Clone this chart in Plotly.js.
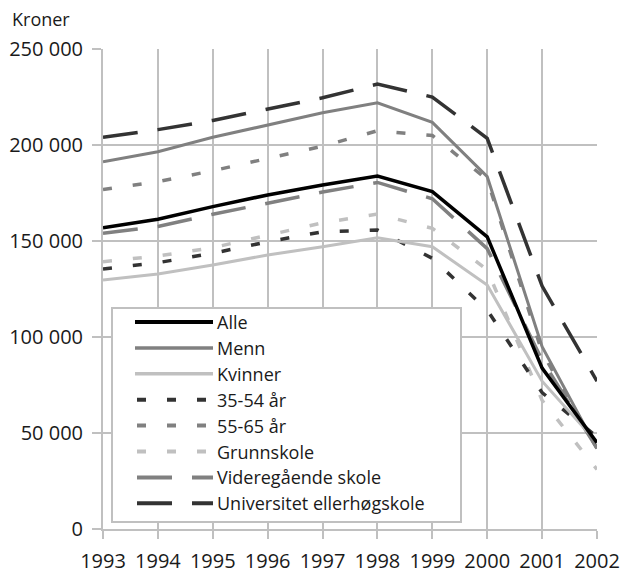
<!DOCTYPE html>
<html>
<head>
<meta charset="utf-8">
<script src="https://cdn.plot.ly/plotly-3.0.1.min.js"></script>
<style>
html,body{margin:0;padding:0;background:#fff;}
#chart{width:620px;height:576px;}
</style>
</head>
<body>
<div id="chart"></div>
<script>
// ---- data (kroner) ----
const years = [1993, 1994, 1995, 1996, 1997, 1998, 1999, 2000, 2001, 2002];
const alle          = [156900, 161300, 167900, 174000, 179200, 183800, 175700, 152200, 83800, 45000];
const menn          = [191300, 196500, 204000, 210400, 216800, 222000, 211800, 183500, 95000, 42000];
const kvinner       = [129700, 132800, 137500, 142700, 147000, 151700, 147000, 127100, 77000, 45000];
const aar3554       = [135400, 138700, 143600, 149600, 154800, 155700, 141000, 114000, 71000, 48000];
const aar5565       = [176800, 180900, 186600, 192900, 199400, 207400, 205000, 182000, 92000, 42000];
const grunnskole    = [139200, 142200, 146500, 153100, 159500, 164000, 156600, 135000, 67000, 31000];
const videregaende  = [154000, 157600, 163900, 169800, 175500, 180500, 172000, 146000, 88000, 42000];
const universitet   = [204000, 208000, 212800, 218900, 224600, 231700, 225000, 203500, 126500, 77000];

const seriesNames = ["Alle", "Menn", "Kvinner", "35-54 år", "55-65 år", "Grunnskole", "Videregående skole", "Universitet ellerhøgskole"];
const seriesData  = [alle, menn, kvinner, aar3554, aar5565, grunnskole, videregaende, universitet];
const yTicks = [0, 50000, 100000, 150000, 200000, 250000];
const yUnit = "Kroner";

// ---- styles ----
const colors = ["#000000", "#808080", "#c0c0c0", "#333333", "#808080", "#c0c0c0", "#808080", "#333333"];
const widths = [3.5, 3, 3, 3.5, 3.5, 3.5, 3.5, 3.5];
const shortDash = "9px,21px";
const longDash = "35px,20px";
const dashes = ["solid", "solid", "solid", shortDash, shortDash, shortDash, longDash, longDash];

// ---- layout geometry (pixels) ----
const W = 620, H = 576;
const M = {l: 103, r: 23, t: 49, b: 47};
const PW = W - M.l - M.r, PH = H - M.t - M.b;
const fx = px => (px - M.l) / PW;
const fy = py => (H - M.b - py) / PH;
const FONT = "'Open Sans', 'Noto Sans', sans-serif";
const TXT = "#1a1a1a";
const GRID = "#c0c0c0";

// traces (drawn in reverse so "Alle" ends on top)
const traces = [];
for (let i = seriesNames.length - 1; i >= 0; i--) {
  traces.push({
    type: "scatter", mode: "lines",
    x: years, y: seriesData[i], name: seriesNames[i],
    line: {color: colors[i], width: widths[i], dash: dashes[i]},
    showlegend: false, hoverinfo: "x+y+name"
  });
}

// custom legend (box, samples, labels) built from the series lists
const shapes = [{
  type: "rect", xref: "paper", yref: "paper",
  x0: fx(112), x1: fx(461), y0: fy(522), y1: fy(308),
  line: {color: GRID, width: 2}, fillcolor: "#ffffff", layer: "above"
}];
const annotations = [{
  xref: "paper", yref: "paper", x: fx(10), y: fy(19),
  xanchor: "left", yanchor: "middle", showarrow: false,
  text: yUnit, font: {family: FONT, size: 18, color: TXT}
}];
const rowStart = 322, rowStep = 25.9;
seriesNames.forEach((name, i) => {
  const py = rowStart + i * rowStep;
  const solid = dashes[i] === "solid";
  shapes.push({
    type: "line", xref: "paper", yref: "paper",
    x0: fx(solid ? 135 : 137), x1: fx(213), y0: fy(py), y1: fy(py),
    line: {color: colors[i], width: widths[i] + 0.5, dash: dashes[i]}, layer: "above"
  });
  annotations.push({
    xref: "paper", yref: "paper", x: fx(215), y: fy(py),
    xanchor: "left", yanchor: "middle", showarrow: false,
    text: name, font: {family: FONT, size: 18, color: TXT}
  });
});

const layout = {
  width: W, height: H,
  margin: M,
  paper_bgcolor: "#ffffff", plot_bgcolor: "#ffffff",
  separators: ", ",
  font: {family: FONT, size: 20, color: TXT},
  showlegend: false,
  xaxis: {
    type: "linear", range: [years[0], years[years.length - 1]],
    tickvals: years, ticktext: years.map(String),
    showgrid: true, gridcolor: GRID, gridwidth: 2,
    showline: true, linecolor: GRID, linewidth: 2, mirror: false,
    ticks: "outside", ticklen: 8, tickwidth: 2, tickcolor: GRID,
    ticklabelstandoff: 5,
    zeroline: false, fixedrange: true,
    tickfont: {family: FONT, size: 20, color: TXT}
  },
  yaxis: {
    range: [0, 250000], tickvals: yTicks, tickformat: ",d",
    showgrid: true, gridcolor: GRID, gridwidth: 2,
    showline: true, linecolor: GRID, linewidth: 2,
    ticks: "outside", ticklen: 9, tickwidth: 2, tickcolor: GRID,
    ticklabelstandoff: 5,
    zeroline: false, fixedrange: true,
    tickfont: {family: FONT, size: 20, color: TXT}
  },
  shapes: shapes,
  annotations: annotations
};

Plotly.newPlot("chart", traces, layout, {displayModeBar: false, staticPlot: true});
</script>
</body>
</html>
